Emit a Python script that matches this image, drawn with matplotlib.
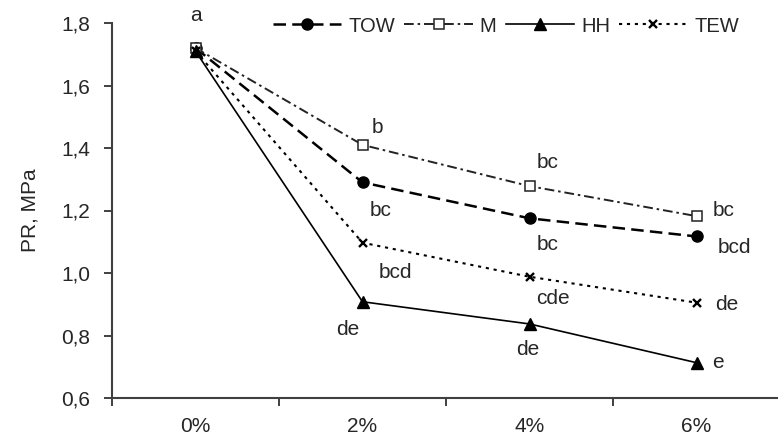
import matplotlib
matplotlib.use("Agg")
import matplotlib.pyplot as plt

categories = ["0%", "2%", "4%", "6%"]
tow = [1.72, 1.29, 1.175, 1.117]
m = [1.72, 1.41, 1.278, 1.182]
hh = [1.71, 0.908, 0.837, 0.713]
tew = [1.71, 1.097, 0.988, 0.905]
y_ticks = [0.6, 0.8, 1.0, 1.2, 1.4, 1.6, 1.8]
y_tick_labels = ["0,6", "0,8", "1,0", "1,2", "1,4", "1,6", "1,8"]

# significance letters: (text, x in category units, y value)
letters = ["a", "b", "bc", "bcd", "de", "bc", "bc", "cde", "de", "bc", "bcd", "de", "e"]
letter_x = [0.0, 1.09, 1.11, 1.20, 0.91, 2.11, 2.11, 2.14, 1.99, 3.16, 3.23, 3.18, 3.13]
letter_y = [1.825, 1.467, 1.20, 1.003, 0.818, 1.352, 1.09, 0.92, 0.754, 1.20, 1.08, 0.90, 0.712]

plt.rcParams['font.family'] = ['Liberation Sans', 'DejaVu Sans']
txt = '#262626'
fs = 15

fig = plt.figure(figsize=(7.78, 4.43), dpi=100)
ax = fig.add_axes([112/778, 45/443, 668/778, 375/443])

x = list(range(len(categories)))
ax.plot(x, tow, color='black', lw=1.8, linestyle=(0, (5, 2.5)), marker='o', ms=8,
        markerfacecolor='black', label='TOW')
ax.plot(x, m, color='#222222', lw=1.4, linestyle=(0, (5, 2, 1.3, 2)), marker='s', ms=6.5,
        markerfacecolor='white', markeredgewidth=1.1, label='M')
ax.plot(x, hh, color='black', lw=1.2, linestyle='-', marker='^', ms=8.5,
        markerfacecolor='black', label='HH')
ax.plot(x, tew, color='black', lw=1.5, linestyle=(0, (1.5, 2.3)), marker='x', ms=5.5,
        markeredgewidth=1.7, label='TEW')

for t, lx, ly in zip(letters, letter_x, letter_y):
    ax.text(lx, ly, t, ha='center', va='center', fontsize=fs, color=txt, clip_on=False)

ax.set_xlim(-0.5, 3.5)
ax.set_ylim(0.6, 1.8)
ax.set_yticks(y_ticks)
ax.set_yticklabels(y_tick_labels)
ax.set_xticks([-0.5, 0.5, 1.5, 2.5])
ax.set_xticklabels([])
ax.set_xticks(x, minor=True)
ax.set_xticklabels(categories, minor=True)
ax.tick_params(axis='x', which='minor', length=0, pad=14, labelsize=fs, labelcolor=txt)
ax.tick_params(axis='x', which='major', length=5.5, width=1.4, color='#404040', direction='out')
ax.tick_params(axis='y', length=5.5, width=1.4, color='#404040', direction='out', pad=10,
               labelsize=fs, labelcolor=txt)

for s in ['top', 'right']:
    ax.spines[s].set_visible(False)
for s in ['left', 'bottom']:
    ax.spines[s].set_color('#404040')
    ax.spines[s].set_linewidth(1.5)

ax.set_ylabel('PR, MPa', fontsize=fs, color=txt, labelpad=16)

leg = ax.legend(loc='center left', bbox_to_anchor=((273-112)/668, 1.0 - 3/375), ncol=4,
                frameon=False, handlelength=3.4, handletextpad=0.35, columnspacing=0.45,
                fontsize=14.5, borderaxespad=0, borderpad=0.0)
for t in leg.get_texts():
    t.set_color(txt)

fig.savefig('out.png', dpi=100)
